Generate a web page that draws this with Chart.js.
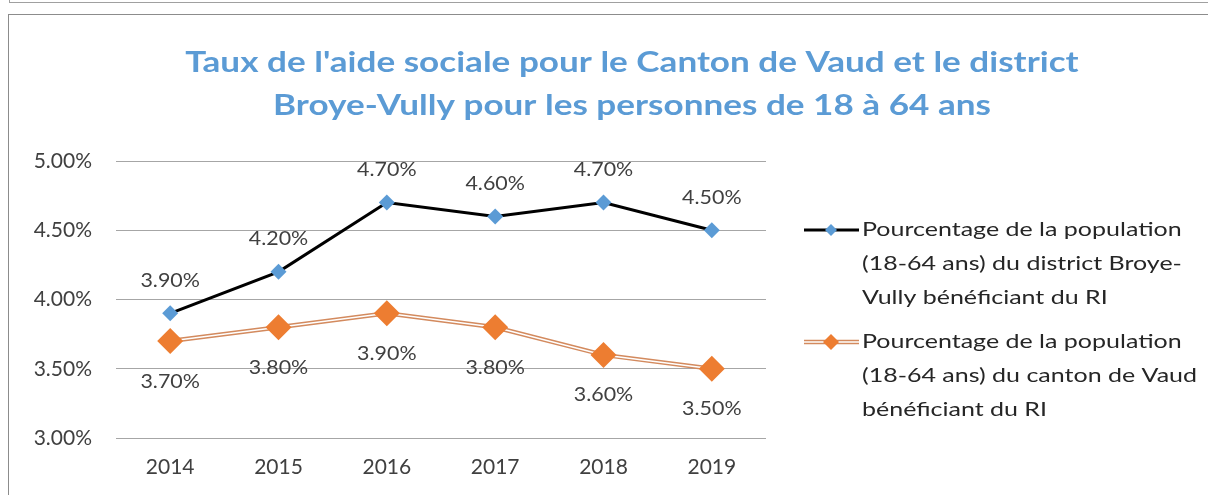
<!DOCTYPE html>
<html>
<head>
<meta charset="utf-8">
<script src="https://cdn.jsdelivr.net/npm/chart.js@4"></script>
<style>
  html, body { margin: 0; padding: 0; background: #fff; overflow: hidden; width: 1208px; height: 495px; }
  #topframe { position: absolute; left: 9px; top: -10px; width: 1300px; height: 12px; border-left: 1px solid #a0a0a0; border-bottom: 1px solid #a0a0a0; }
  #box { position: absolute; left: 8px; top: 14px; width: 1246px; height: 500px; border-left: 1px solid #8c8c8c; border-top: 1px solid #8c8c8c; }
  #chart { position: absolute; left: 0; top: 0; }
</style>
</head>
<body>
<div id="topframe"></div>
<div id="box"><canvas id="chart" width="1246" height="500"></canvas></div>
<script>
// Taux de l'aide sociale — district Broye-Vully vs canton de Vaud (18-64 ans)

const YEARS = ['2014', '2015', '2016', '2017', '2018', '2019'];
const BROYE_VULLY = [3.9, 4.2, 4.7, 4.6, 4.7, 4.5];
const VAUD = [3.7, 3.8, 3.9, 3.8, 3.6, 3.5];
const Y_MIN = 3;
const Y_MAX = 5;
const Y_STEP = 0.5;

const TITLE_LINES = [
    "Taux de l'aide sociale pour le Canton de Vaud et le district",
    'Broye-Vully pour les personnes de 18 à 64 ans',
];
const LEGEND_BROYE = ['Pourcentage de la population', '(18-64 ans) du district Broye-', 'Vully bénéficiant du RI'];
const LEGEND_VAUD = ['Pourcentage de la population', '(18-64 ans) du canton de Vaud', 'bénéficiant du RI'];

const FONT = 'Lato, "Open Sans", sans-serif';
const TEXT = '#404040';
const BLUE = '#5B9BD5';
const ORANGE = '#ED7D31';
const ORANGE_EDGE = '#D38A5E';

const fmt = (v) => v.toFixed(2) + '%';

// the source picture is a bit wider than tall, so wide text gets a horizontal stretch
function stretchText(ctx, text, x, y, sx, align) {
    ctx.save();
    ctx.translate(x, y);
    ctx.scale(sx, 1);
    ctx.textAlign = align;
    ctx.fillText(text, 0, 0);
    ctx.restore();
}

function diamond(ctx, x, y, r, color) {
    ctx.beginPath();
    ctx.moveTo(x, y - r);
    ctx.lineTo(x + r, y);
    ctx.lineTo(x, y + r);
    ctx.lineTo(x - r, y);
    ctx.closePath();
    ctx.fillStyle = color;
    ctx.fill();
}

// title drawn centred on the whole box, not on the plot area
const titlePlugin = {
    id: 'boxTitle',
    afterDraw(chart) {
        const ctx = chart.ctx;
        ctx.save();
        ctx.font = 'bold 29px ' + FONT;
        ctx.fillStyle = BLUE;
        ctx.textBaseline = 'middle';
        stretchText(ctx, TITLE_LINES[0], chart.width / 2, 48, 1.21, 'center');
        stretchText(ctx, TITLE_LINES[1], chart.width / 2, 91, 1.21, 'center');
        ctx.restore();
    },
};

// value labels: above for the district, below for the canton
const LABEL_OFFSETS = { 0: -33, 3: 40 };
const valueLabels = {
    id: 'valueLabels',
    afterDatasetsDraw(chart) {
        const ctx = chart.ctx;
        ctx.save();
        ctx.font = '20px ' + FONT;
        ctx.fillStyle = TEXT;
        ctx.textBaseline = 'middle';
        Object.keys(LABEL_OFFSETS).forEach((i) => {
            const ds = chart.data.datasets[i];
            chart.getDatasetMeta(i).data.forEach((pt, j) => {
                stretchText(ctx, fmt(ds.data[j]), pt.x, pt.y + LABEL_OFFSETS[i], 1.07, 'center');
            });
        });
        ctx.restore();
    },
};

// Excel-style legend: line with marker, wrapped text
const sideLegend = {
    id: 'sideLegend',
    afterDraw(chart) {
        const ctx = chart.ctx;
        const x0 = chart.chartArea.right + 38;
        const entries = [
            { y: 215, lines: LEGEND_BROYE, kind: 'broye' },
            { y: 327, lines: LEGEND_VAUD, kind: 'vaud' },
        ];
        ctx.save();
        entries.forEach((e) => {
            if (e.kind === 'broye') {
                ctx.strokeStyle = '#000';
                ctx.lineWidth = 3;
                ctx.beginPath(); ctx.moveTo(x0, e.y); ctx.lineTo(x0 + 55, e.y); ctx.stroke();
                diamond(ctx, x0 + 27, e.y, 6, BLUE);
            } else {
                ctx.strokeStyle = ORANGE_EDGE;
                ctx.lineWidth = 4.5;
                ctx.beginPath(); ctx.moveTo(x0, e.y); ctx.lineTo(x0 + 55, e.y); ctx.stroke();
                ctx.strokeStyle = '#fff';
                ctx.lineWidth = 1.5;
                ctx.beginPath(); ctx.moveTo(x0, e.y); ctx.lineTo(x0 + 55, e.y); ctx.stroke();
                diamond(ctx, x0 + 27, e.y, 8, ORANGE);
            }
            ctx.font = '20px ' + FONT;
            ctx.fillStyle = '#262626';
            ctx.textBaseline = 'middle';
            e.lines.forEach((t, k) => stretchText(ctx, t, x0 + 58, e.y + k * 34, 1.25, 'left'));
        });
        ctx.restore();
    },
};

new Chart(document.getElementById('chart').getContext('2d'), {
    type: 'line',
    data: {
        labels: YEARS,
        datasets: [
            {
                data: BROYE_VULLY,
                borderColor: '#000',
                borderWidth: 3,
                pointStyle: 'rectRot',
                pointRadius: 8,
                pointBackgroundColor: BLUE,
                pointBorderWidth: 0,
                tension: 0,
                order: 0,
            },
            // canton line is drawn as a double stroke: wide edge, thin white core, then markers
            { data: VAUD, borderColor: ORANGE_EDGE, borderWidth: 4.5, pointRadius: 0, order: 3 },
            { data: VAUD, borderColor: '#fff', borderWidth: 1.5, pointRadius: 0, order: 2 },
            {
                data: VAUD,
                showLine: false,
                pointStyle: 'rectRot',
                pointRadius: 13,
                pointBackgroundColor: ORANGE,
                pointBorderWidth: 0,
                order: 1,
            },
        ],
    },
    options: {
        responsive: false,
        animation: false,
        events: [],
        layout: { padding: { top: 146, right: 489, left: 0, bottom: 0 } },
        plugins: { legend: { display: false }, title: { display: false }, tooltip: { enabled: false } },
        scales: {
            x: {
                offset: true,
                grid: { display: false, drawTicks: false },
                border: { display: false },
                ticks: { color: TEXT, font: { family: FONT, size: 21 }, padding: 17 },
                afterFit(s) { s.height = 77; },
            },
            y: {
                min: Y_MIN,
                max: Y_MAX,
                grid: { color: '#a6a6a6', drawTicks: false },
                border: { display: false },
                ticks: { stepSize: Y_STEP, color: TEXT, font: { family: FONT, size: 21 }, padding: 24, callback: (v) => fmt(v) },
                afterFit(s) { s.width = 107; },
            },
        },
    },
    plugins: [titlePlugin, valueLabels, sideLegend],
});
</script>
</body>
</html>
